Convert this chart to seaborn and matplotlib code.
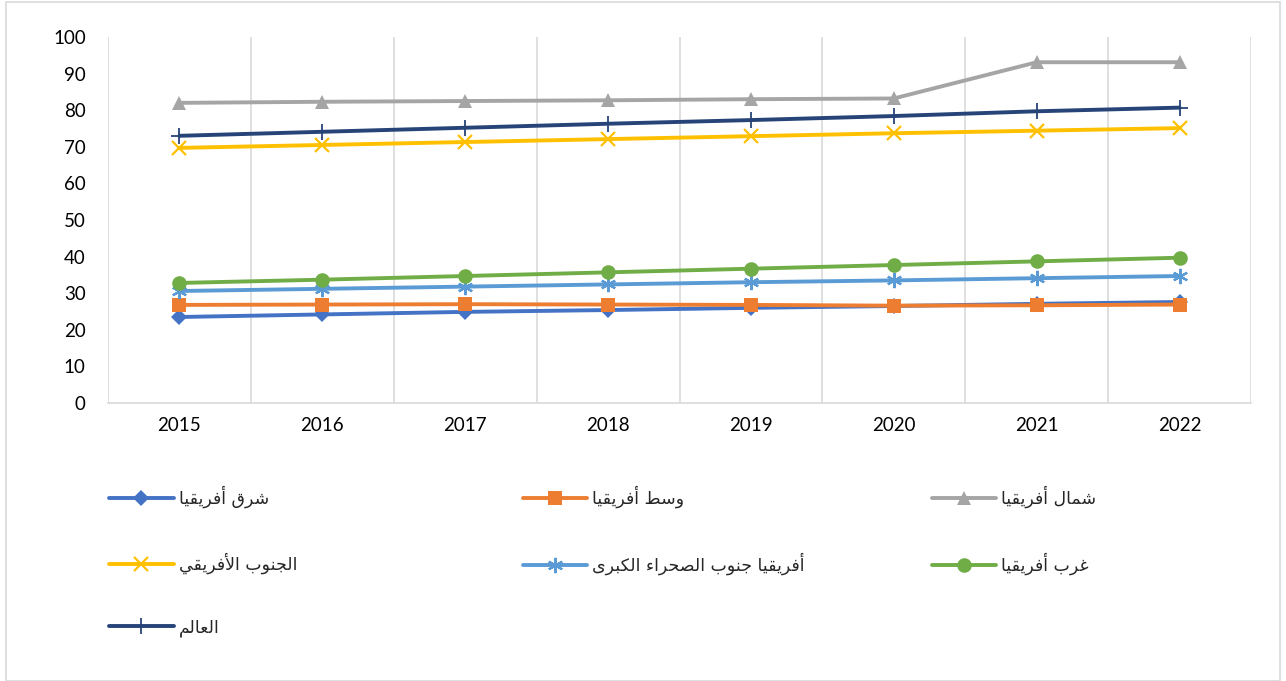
import pandas as pd
import matplotlib.pyplot as plt
import seaborn as sns
from matplotlib.patches import Rectangle

# Values (percent, 2015-2022)
years = ['2015', '2016', '2017', '2018', '2019', '2020', '2021', '2022']
east = [23.5, 24.2, 24.9, 25.4, 26.0, 26.5, 27.1, 27.6]
central = [26.8, 26.9, 27.0, 26.9, 26.8, 26.6, 26.7, 26.9]
north = [82.0, 82.3, 82.5, 82.7, 83.0, 83.2, 93.1, 93.1]
southern = [69.7, 70.5, 71.3, 72.1, 72.9, 73.7, 74.4, 75.1]
subsaharan = [30.6, 31.2, 31.8, 32.4, 33.0, 33.5, 34.1, 34.7]
west = [32.8, 33.7, 34.7, 35.7, 36.7, 37.7, 38.7, 39.7]
world = [73.0, 74.1, 75.2, 76.3, 77.3, 78.4, 79.7, 80.7]

names = ['شرق أفريقيا', 'وسط أفريقيا', 'شمال أفريقيا', 'الجنوب الأفريقي',
         'أفريقيا جنوب الصحراء الكبرى', 'غرب أفريقيا', 'العالم']

# Arabic presentation forms: isolated, final, initial, medial
FORMS = {
    'ا': ('\uFE8D', '\uFE8E', None, None), 'أ': ('\uFE83', '\uFE84', None, None),
    'ب': ('\uFE8F', '\uFE90', '\uFE91', '\uFE92'), 'ج': ('\uFE9D', '\uFE9E', '\uFE9F', '\uFEA0'),
    'ح': ('\uFEA1', '\uFEA2', '\uFEA3', '\uFEA4'), 'ر': ('\uFEAD', '\uFEAE', None, None),
    'س': ('\uFEB1', '\uFEB2', '\uFEB3', '\uFEB4'), 'ش': ('\uFEB5', '\uFEB6', '\uFEB7', '\uFEB8'),
    'ص': ('\uFEB9', '\uFEBA', '\uFEBB', '\uFEBC'), 'ط': ('\uFEC1', '\uFEC2', '\uFEC3', '\uFEC4'),
    'ع': ('\uFEC9', '\uFECA', '\uFECB', '\uFECC'), 'غ': ('\uFECD', '\uFECE', '\uFECF', '\uFED0'),
    'ف': ('\uFED1', '\uFED2', '\uFED3', '\uFED4'), 'ق': ('\uFED5', '\uFED6', '\uFED7', '\uFED8'),
    'ك': ('\uFED9', '\uFEDA', '\uFEDB', '\uFEDC'), 'ل': ('\uFEDD', '\uFEDE', '\uFEDF', '\uFEE0'),
    'م': ('\uFEE1', '\uFEE2', '\uFEE3', '\uFEE4'), 'ن': ('\uFEE5', '\uFEE6', '\uFEE7', '\uFEE8'),
    'و': ('\uFEED', '\uFEEE', None, None), 'ى': ('\uFEEF', '\uFEF0', None, None),
    'ي': ('\uFEF1', '\uFEF2', '\uFEF3', '\uFEF4'), 'ء': ('\uFE80', None, None, None),
    '\u0001': ('\uFEF7', '\uFEF8', None, None), '\u0002': ('\uFEFB', '\uFEFC', None, None),
}


def shape(text):
    # matplotlib has no bidi / joining support, so join letters and reverse
    text = text.replace('لأ', '\u0001').replace('لا', '\u0002')
    out = []
    for i, c in enumerate(text):
        if c not in FORMS:
            out.append(c)
            continue
        prev = text[i - 1] if i > 0 else ''
        nxt = text[i + 1] if i + 1 < len(text) else ''
        join_prev = prev in FORMS and FORMS[prev][2] is not None and FORMS[c][1] is not None
        join_next = FORMS[c][2] is not None and nxt in FORMS and FORMS[nxt][1] is not None
        if join_prev and join_next:
            out.append(FORMS[c][3])
        elif join_prev:
            out.append(FORMS[c][1])
        elif join_next:
            out.append(FORMS[c][2])
        else:
            out.append(FORMS[c][0])
    return ''.join(reversed(out))


sns.set_theme(style='white')
plt.rcParams['font.family'] = ['Lato', 'DejaVu Sans']

fig = plt.figure(figsize=(12.86, 6.81), dpi=100)
ax = fig.add_axes([0.084, 0.4082, 0.8888, 0.5375])

series = [east, central, north, southern, subsaharan, west, world]
colors = ['#4472C4', '#ED7D31', '#A5A5A5', '#FFC000', '#5B9BD5', '#70AD47', '#264478']
markers = ['D', 's', '^', 'x', (6, 2, 0), 'o', '+']
msizes = [8, 10, 10, 10, 11, 10.5, 12]
medge = [0, 0, 0, 1.6, 1.6, 0, 1.3]

x = list(range(len(years)))
for vals, name, col, mk, ms, me in zip(series, names, colors, markers, msizes, medge):
    df = pd.DataFrame({'x': x, 'y': vals})
    sns.lineplot(data=df, x='x', y='y', ax=ax, color=col, lw=2.8, marker=mk,
                 markersize=ms, markeredgewidth=me, markeredgecolor=col,
                 markerfacecolor=col, label=shape(name))

handles, labels = ax.get_legend_handles_labels()
ax.get_legend().remove()

ax.set_xlim(-0.5, 7.5)
ax.set_ylim(0, 100)
ax.set_yticks(range(0, 101, 10))
ax.set_xticks(x)
ax.set_xticklabels(years)
ax.set_xticks([i - 0.5 for i in range(9)], minor=True)
ax.grid(which='minor', axis='x', color='#D9D9D9', lw=1.2)
ax.grid(which='major', visible=False)
ax.tick_params(axis='both', which='both', length=0, labelsize=13.5, colors='black')
ax.tick_params(axis='x', pad=10)
ax.tick_params(axis='y', pad=16)
ax.set_xlabel('')
ax.set_ylabel('')
for s in ['top', 'right', 'left']:
    ax.spines[s].set_visible(False)
ax.spines['bottom'].set_color('#D9D9D9')
ax.spines['bottom'].set_linewidth(1.2)

# legend: three columns, filled row by row like the original
cols_idx = [[0, 3, 6], [1, 4], [2, 5]]
col_x = [0.0783, 0.3997, 0.7177]
for idx, cx in zip(cols_idx, col_x):
    fig.legend([handles[i] for i in idx], [labels[i] for i in idx],
               loc='upper left', bbox_to_anchor=(cx, 0.2994), frameon=False,
               handlelength=3.7, handletextpad=0.3,
               labelspacing=2.55, borderpad=0,
               prop={'family': 'DejaVu Sans', 'size': 12.5})

fig.patches.append(Rectangle((0.005, 0.0), 0.99, 0.997, transform=fig.transFigure,
                             fill=False, edgecolor='#D9D9D9', lw=1.2))

fig.savefig('out.png', dpi=100)
